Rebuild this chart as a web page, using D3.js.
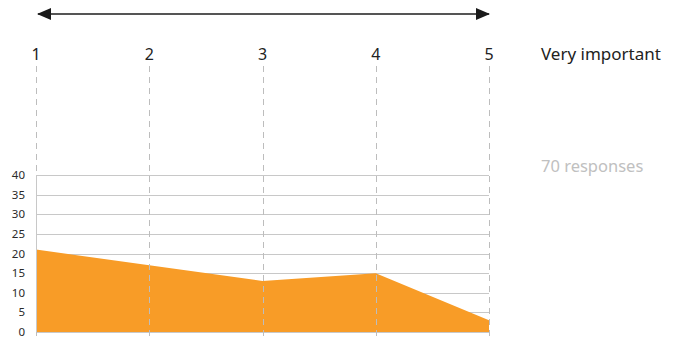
<!DOCTYPE html>
<html><head><meta charset="utf-8">
<script src="https://cdn.jsdelivr.net/npm/d3@7"></script>
<style>
body{margin:0;background:#fff;}
svg{display:block;font-family:"Noto Sans",sans-serif;}
</style></head>
<body>
<svg id="chart" width="677" height="340"></svg>
<script>
const categories = [1, 2, 3, 4, 5];
const values = [21, 17, 13, 15, 3];
const yTicks = [0, 5, 10, 15, 20, 25, 30, 35, 40];
const topLabel = "Very important";
const responsesLabel = "70 responses";

const svg = d3.select("#chart");
const x = d3.scaleLinear().domain([1, 5]).range([36, 489]);
const y = d3.scaleLinear().domain([0, 40]).range([332, 175]);

// arrow
const defs = svg.append("defs");
defs.append("marker").attr("id","ah").attr("viewBox","0 0 14 12").attr("refX",13).attr("refY",6)
  .attr("markerWidth",14).attr("markerHeight",12).attr("orient","auto-start-reverse")
  .attr("markerUnits","userSpaceOnUse")
  .append("path").attr("d","M0,0L14,6L0,12Z").attr("fill","#1a1a1a");
svg.append("line").attr("x1",x(1)+2).attr("x2",x(5)).attr("y1",14).attr("y2",14)
  .attr("stroke","#555").attr("stroke-width",2)
  .attr("marker-start","url(#ah)").attr("marker-end","url(#ah)");

// horizontal gridlines
svg.append("g").selectAll("line").data(yTicks).join("line")
  .attr("x1",x(1)).attr("x2",x(5)).attr("y1",d=>Math.round(y(d))+0.5).attr("y2",d=>Math.round(y(d))+0.5)
  .attr("stroke","#c8c8c8").attr("stroke-width",1);

// area
const area = d3.area().x((d,i)=>x(categories[i])).y0(y(0)).y1(d=>y(d));
svg.append("path").datum(values).attr("d",area).attr("fill","#F89C27");

// vertical dashed lines
svg.append("g").selectAll("line").data(categories).join("line")
  .attr("x1",d=>Math.round(x(d))+0.5).attr("x2",d=>Math.round(x(d))+0.5)
  .attr("y1",66).attr("y2",339)
  .attr("stroke","#bdbdbd").attr("stroke-width",1).attr("stroke-dasharray","6,5");

// y axis line
svg.append("line").attr("x1",x(1)+0.5).attr("x2",x(1)+0.5).attr("y1",y(40)).attr("y2",y(0))
  .attr("stroke","#c8c8c8");

// y tick labels
svg.append("g").selectAll("text").data(yTicks).join("text")
  .attr("x",25).attr("y",d=>y(d)+4).attr("text-anchor","end")
  .attr("font-size",11.5).attr("fill","#2a2a2a").text(d=>d);

// top category labels
svg.append("g").selectAll("text").data(categories).join("text")
  .attr("x",d=>x(d)).attr("y",60).attr("text-anchor","middle")
  .attr("font-size",16).attr("fill","#222").text(d=>d);

svg.append("text").attr("x",541).attr("y",60).attr("font-size",17).attr("fill","#222").text(topLabel);
svg.append("text").attr("x",541).attr("y",172).attr("font-size",16.5).attr("fill","#c0c0c0").text(responsesLabel);
</script>
</body></html>
